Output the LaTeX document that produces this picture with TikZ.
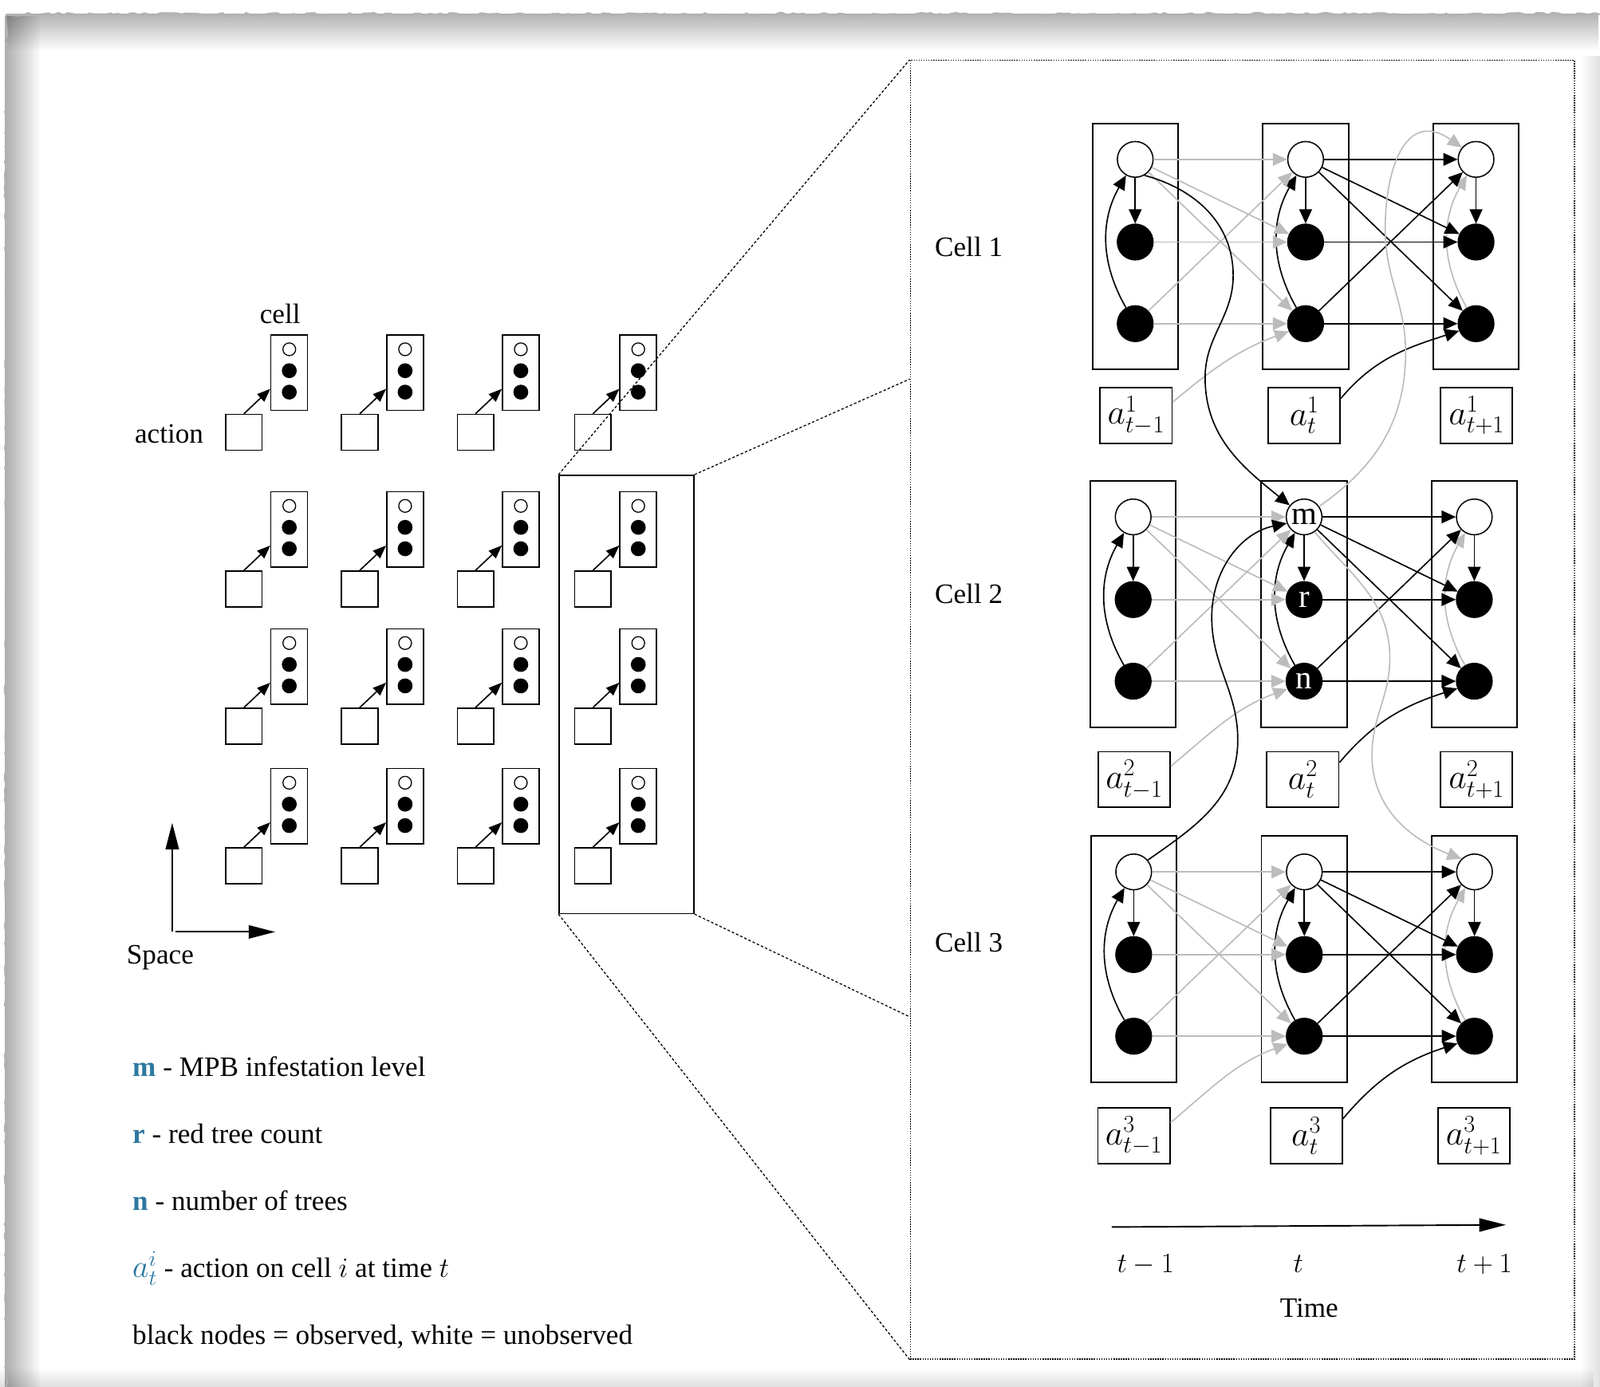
\RequirePackage{fix-cm}
\documentclass[tikz,border=0pt]{standalone}
\usepackage[no-math]{fontspec}
\setmainfont{Liberation Serif}
\usetikzlibrary{arrows.meta,decorations.pathmorphing,calc,fadings}
\definecolor{lgray}{RGB}{188,188,188}
\definecolor{legblue}{RGB}{44,120,160}
\begin{document}
\begin{tikzpicture}[x=1pt,y=-1pt,
  font=\fontsize{27.5}{33}\selectfont,
  pbox/.style={draw, line width=1.5pt, minimum width=84pt, minimum height=241pt, inner sep=0pt},
  hid/.style={circle, draw, fill=white, line width=1.2pt, minimum size=35pt, inner sep=0pt},
  obs/.style={circle, draw, fill=black, line width=1.2pt, minimum size=35pt, inner sep=0pt},
  abox/.style={draw, line width=1.4pt, minimum width=70.5pt, minimum height=54.5pt, inner sep=0pt, font=\fontsize{34}{38}\selectfont},
  bk/.style={black, line width=1.3pt, -{Triangle[length=14pt,width=12.5pt]}},
  gr/.style={lgray, line width=1.3pt, -{Triangle[length=14pt,width=12.5pt]}},
  sbox/.style={draw, line width=1.2pt, minimum width=36pt, minimum height=73.8pt, inner sep=0pt},
  swh/.style={circle, draw, fill=white, line width=1pt, minimum size=12.5pt, inner sep=0pt},
  sbl/.style={circle, fill=black, minimum size=14.6pt, inner sep=0pt},
  sq/.style={draw, line width=1.2pt, minimum width=35.7pt, minimum height=35.2pt, inner sep=0pt},
  sarr/.style={black, line width=1.3pt, -{Triangle[length=13pt,width=10pt]}},
  bigarr/.style={black, line width=1.5pt, -{Triangle[length=26pt,width=13pt]}},
  conn/.style={line width=1pt, dash pattern=on 2.5pt off 2pt},
  lbl/.style={inner sep=0pt},
  nlbl/.style={inner sep=0pt, font=\fontsize{32}{34}\selectfont},
]
\useasboundingbox (0,0) rectangle (1568,1359);
% paper background with torn edge shadow
\fill[white] (0,0) rectangle (1568,1359);
\fill[black, opacity=0.30, path fading=south] (7,13) rectangle (1568,50);
\fill[black, opacity=0.32, path fading=east] (5,13) rectangle (40,1359);
\fill[black, opacity=0.13, path fading=north] (0,1340) rectangle (1568,1359);
\fill[black, opacity=0.12, path fading=west] (1549,50) rectangle (1568,1359);
\draw[black!30, line width=1.5pt, decorate, decoration={random steps, segment length=5pt, amplitude=1.5pt}] (7,14) -- (1568,14);
\draw[black!30, line width=1.5pt, decorate, decoration={random steps, segment length=5pt, amplitude=1.5pt}] (6,14) -- (6,1359);

% ---------------- left grid ----------------
\foreach \gi/\bx in {1/265.5,2/379,3/492.4,4/607.5}{
  \foreach \gj/\by in {1/328.3,2/481.8,3/616.2,4/753.1}{
    \node[sbox] (G\gi\gj) at (\bx+18,\by+36.9) {};
    \node[swh] (Gw\gi\gj) at (\bx+18,\by+14) {};
    \node[sbl] (Gb\gi\gj) at (\bx+18,\by+35) {};
    \node[sbl] (Gc\gi\gj) at (\bx+18,\by+56) {};
    \node[sq] (Q\gi\gj) at (\bx-26.45,\by+95.4) {};
    \draw[sarr] (Q\gi\gj.north) -- ($(G\gi\gj.north west)+(0,53.4)$);
  }
}
\node[draw, line width=1.3pt, minimum width=132pt, minimum height=429.5pt, inner sep=0pt] (BIG) at (614,680.5) {};
\node[lbl, anchor=base] (tcell) at (274.5,316.6) {cell};
\node[lbl, anchor=base east] (tact) at (199.5,434) {action};

% space axes
\coordinate (S0) at (168.8,913.3);
\coordinate (S1) at (168.8,806.4);
\coordinate (S2) at (172,913.3);
\coordinate (S3) at (269.7,913.3);
\draw[bigarr] (S0) -- (S1);
\draw[bigarr] (S2) -- (S3);
\node[lbl, anchor=base] (tspace) at (157,944.5) {Space};

% legend
\node[lbl, anchor=base west] (L1) at (129.7,1054.7) {{\color{legblue}\textbf{m}} - MPB infestation level};
\node[lbl, anchor=base west] (L2) at (129.7,1120.4) {{\color{legblue}\textbf{r}} - red tree count};
\node[lbl, anchor=base west] (L3) at (129.7,1186.1) {{\color{legblue}\textbf{n}} - number of trees};
\node[lbl, anchor=base west] (L4) at (129.7,1252) {{\fontsize{31}{33}\selectfont\color{legblue}$a_t^i$} - action on cell $i$ at time $t$};
\node[lbl, anchor=base west] (L5) at (129.7,1317.8) {black nodes = observed, white = unobserved};

% ---------------- right panel ----------------
\node[draw, line width=1pt, dash pattern=on 1.2pt off 1.2pt, minimum width=651pt, minimum height=1273pt, inner sep=0pt] (PAN) at (1217.5,695.5) {};
\coordinate (PA) at ($(PAN.north west)+(0,313)$);
\coordinate (PB) at ($(PAN.north west)+(0,938)$);
\draw[conn] (BIG.north west) -- (PAN.north west);
\draw[conn] (BIG.north east) -- (PA);
\draw[conn] (BIG.south east) -- (PB);
\draw[conn] (BIG.south west) -- (PAN.south west);

\node[lbl, anchor=base west] (C1) at (916,251) {Cell 1};
\node[lbl, anchor=base west] (C2) at (916,591) {Cell 2};
\node[lbl, anchor=base west] (C3) at (916,933) {Cell 3};

\foreach \cc/\ty/\xa/\xb/\xc/\ay/\axa/\axb/\axc in {
  1/121.2/1112.5/1279.5/1446.5/407.1/1113.4/1278.2/1447,
  2/471.6/1110.5/1278/1444.8/764/1111.5/1276.8/1447,
  3/819.5/1111/1278.2/1445/1113.2/1111.2/1280.1/1444.3}{
  \node[pbox] (P\cc1) at (\xa,\ty+120.5) {};
  \node[pbox] (P\cc2) at (\xb,\ty+120.5) {};
  \node[pbox] (P\cc3) at (\xc,\ty+120.5) {};
  \node[hid] (M\cc1) at (\xa,\ty+35) {};
  \node[obs] (R\cc1) at (\xa,\ty+116) {};
  \node[obs] (N\cc1) at (\xa,\ty+196) {};
  \node[hid] (M\cc2) at (\xb,\ty+35) {};
  \node[obs] (R\cc2) at (\xb,\ty+116) {};
  \node[obs] (N\cc2) at (\xb,\ty+196) {};
  \node[hid] (M\cc3) at (\xc,\ty+35) {};
  \node[obs] (R\cc3) at (\xc,\ty+116) {};
  \node[obs] (N\cc3) at (\xc,\ty+196) {};
  \node[abox] (A\cc1) at (\axa,\ay) {$a^{\cc}_{t-1}$};
  \node[abox] (A\cc2) at (\axb,\ay) {$a^{\cc}_{t}$};
  \node[abox] (A\cc3) at (\axc,\ay) {$a^{\cc}_{t+1}$};
  \draw[bk] (M\cc1) -- (R\cc1);
  \draw[bk] (N\cc1) to[bend left=30] (M\cc1);
  \draw[bk] (M\cc2) -- (R\cc2);
  \draw[bk] (N\cc2) to[bend left=30] (M\cc2);
  \draw[bk] (M\cc3) -- (R\cc3);
  \draw[gr] (N\cc3) to[bend left=30] (M\cc3);
  \foreach \sa/\sb in {M/M,M/R,M/N,R/R,N/N,N/M}{
    \draw[gr] (\sa\cc1) -- (\sb\cc2);
    \draw[bk] (\sa\cc2) -- (\sb\cc3);
  }
  \draw[gr] (A\cc1.20) to[out=40,in=200] (N\cc2.205);
  \draw[bk] (A\cc2.25) to[out=50,in=198] (N\cc3.203);
}
\node[nlbl] (lm) at (M22) {m};
\node[nlbl, text=white] (lr) at (R22) {r};
\node[nlbl, text=white] (ln) at (N22) {n};

% long cross-cell connectors
\draw[bk] (M11.-60) to[out=-15,in=90] (1208.5,270) to[out=-90,in=90] (1181,370) to[out=-90,in=141] (M22.141);
\draw[bk] (M31.40) to[out=35,in=-90] (1213,725) to[out=90,in=-90] (1187.5,605) to[out=90,in=192] (M22.200);
\draw[gr] (M22.35) to[out=35,in=-90] (1377.5,345) to[out=90,in=-90] (1357.5,225) to[out=90,in=145,looseness=1.5] (M13.140);
\draw[gr] (M22.-55) to[out=-50,in=90] (1362,645) to[out=-90,in=90] (1344.5,740) to[out=-90,in=159] (M33.135);

% time axis
\coordinate (T0) at (1089.6,1202.5);
\coordinate (T1) at (1475.7,1200.4);
\draw[bigarr] (T0) -- (T1);
\node[lbl, anchor=base] (tm1) at (1122.7,1246.8) {$t-1$};
\node[lbl, anchor=base] (tt) at (1272.4,1246.8) {$t$};
\node[lbl, anchor=base] (tp1) at (1454.7,1246.8) {$t+1$};
\node[lbl, anchor=base] (ttime) at (1282.9,1291) {Time};
\end{tikzpicture}
\end{document}
